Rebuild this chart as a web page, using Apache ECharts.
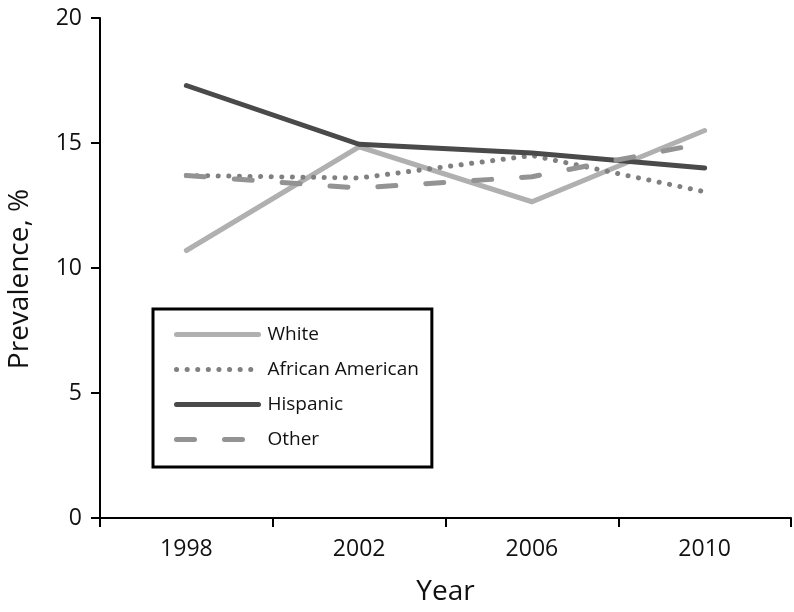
<!DOCTYPE html>
<html>
<head>
<meta charset="utf-8">
<script src="https://cdn.jsdelivr.net/npm/echarts@6/dist/echarts.min.js"></script>
<style>html,body{margin:0;padding:0;background:#fff}#c{width:794px;height:612px}</style>
</head>
<body>
<div id="c"></div>
<script>
var years = ['1998', '2002', '2006', '2010'];
var white = [10.7, 14.85, 12.65, 15.5];
var africanAmerican = [13.7, 13.6, 14.5, 13.05];
var hispanic = [17.3, 14.95, 14.6, 14.0];
var other = [13.7, 13.2, 13.65, 15.0];
var yTicks = [0, 5, 10, 15, 20];

var font = '"Open Sans", "Noto Sans", sans-serif';
var chart = echarts.init(document.getElementById('c'), null, {renderer: 'canvas'});
function mk(name, data, color, type) {
  return {
    name: name, type: 'line', data: data, symbol: 'none', showSymbol: false,
    animation: false,
    lineStyle: {color: color, width: 5, type: type, cap: 'round', join: 'miter'},
    itemStyle: {color: color}
  };
}
chart.setOption({
  animation: false,
  backgroundColor: '#fff',
  textStyle: {fontFamily: font},
  grid: {left: 100, right: 3, top: 18, bottom: 94, containLabel: false, outerBoundsMode: 'none'},
  legend: {
    orient: 'vertical', left: 153, top: 309,
    borderColor: '#000', borderWidth: 3, borderRadius: 0,
    padding: [16, 13, 18, 21],
    itemWidth: 82, itemHeight: 14, itemGap: 16,
    itemStyle: {opacity: 0},
    lineStyle: {width: 5, cap: 'round'},
    textStyle: {fontSize: 19, color: '#111', fontFamily: font, padding: [0, 0, 0, 4]},
    data: ['White', 'African American', 'Hispanic', 'Other']
  },
  xAxis: {
    type: 'category', data: years, boundaryGap: true,
    name: 'Year', nameLocation: 'middle', nameGap: 60,
    nameTextStyle: {fontSize: 28, color: '#111', fontFamily: font},
    axisLine: {lineStyle: {color: '#000', width: 2}},
    axisTick: {show: true, interval: 0, length: 9, lineStyle: {color: '#000', width: 2}},
    axisLabel: {fontSize: 23, color: '#111', margin: 20, fontFamily: font}
  },
  yAxis: {
    type: 'value', min: yTicks[0], max: yTicks[yTicks.length - 1], interval: 5,
    name: 'Prevalence, %', nameLocation: 'middle', nameGap: 66, nameRotate: 90,
    nameTextStyle: {fontSize: 28, color: '#111', fontFamily: font, padding: [0, 22, 0, 0]},
    splitLine: {show: false},
    axisLine: {show: true, lineStyle: {color: '#000', width: 2}},
    axisTick: {show: true, length: 9, lineStyle: {color: '#000', width: 2}},
    axisLabel: {fontSize: 23, color: '#111', margin: 18, fontFamily: font}
  },
  series: [
    mk('White', white, '#b0b0b0', 'solid'),
    mk('African American', africanAmerican, '#808080', [0.1, 10.5]),
    mk('Hispanic', hispanic, '#4a4a4a', 'solid'),
    mk('Other', other, '#939393', [18, 30])
  ]
});
</script>
</body>
</html>
